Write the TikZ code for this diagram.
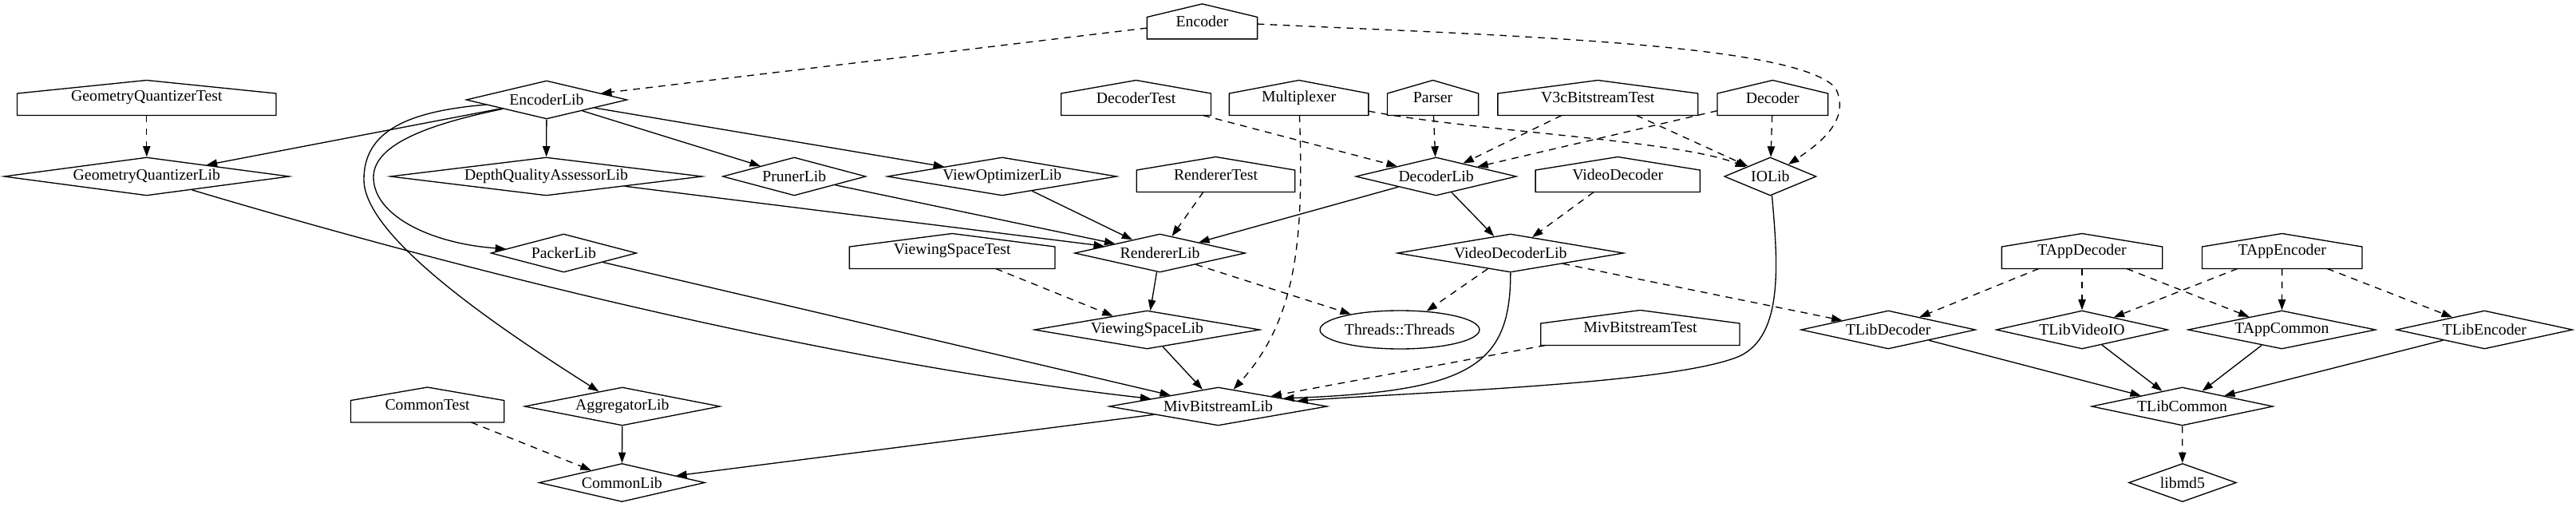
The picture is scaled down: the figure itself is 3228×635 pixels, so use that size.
\documentclass[tikz,border=0pt]{standalone}
\usepackage{fontspec}
\setmainfont{Liberation Serif}
\usetikzlibrary{shapes.geometric,arrows.meta,calc}
\begin{document}
\begin{tikzpicture}[x=0.75pt,y=-0.75pt,
  font=\fontsize{14.8pt}{17pt}\selectfont,
  every node/.style={inner sep=0pt},
  dia/.style 2 args={diamond, draw, line width=1pt, minimum width=#1, minimum height=36pt, shape aspect=#2},
  ell/.style={ellipse, draw, line width=1pt, minimum width=149.9pt, minimum height=36pt},
  house/.style={rectangle, minimum width=#1, minimum height=32.6pt},
  houseline/.style={line width=1pt, line join=miter},
  dep/.style={line width=1pt, -{Triangle[length=10pt,width=7pt]}},
  opt/.style={dep, dash pattern=on 6.5pt off 5.5pt}
]
\useasboundingbox (0,0) rectangle (3228,635);

% house-shaped nodes (executables / tests)
\node[house=103.3pt] (Encoder) at (1506.5,26.9) {Encoder};
\node[house=243pt] (GQTest) at (183.8,122.5) {GeometryQuantizerTest};
\node[house=140.5pt] (DecoderTest) at (1423.6,122.5) {DecoderTest};
\node[house=130.5pt] (Multiplexer) at (1627.6,122.5) {Multiplexer};
\node[house=85.2pt] (Parser) at (1795.5,122.5) {Parser};
\node[house=187.8pt] (V3cTest) at (2002.3,122.5) {V3cBitstreamTest};
\node[house=103.5pt] (Decoder) at (2221.3,122.5) {Decoder};
\node[house=148.5pt] (RendererTest) at (1523.5,218.5) {RendererTest};
\node[house=154.2pt] (VideoDecoder) at (2027.2,218.5) {VideoDecoder};
\node[house=192.8pt] (VSTest) at (1193.2,314.5) {ViewingSpaceTest};
\node[house=150.6pt] (TAppDecoder) at (2609,314.5) {TAppDecoder};
\node[house=150pt] (TAppEncoder) at (2859.7,314.5) {TAppEncoder};
\node[house=186.5pt] (MivTest) at (2055.4,410.5) {MivBitstreamTest};
\node[house=143.7pt] (CommonTest) at (535.6,507) {CommonTest};

\foreach \n in {Encoder,GQTest,DecoderTest,Multiplexer,Parser,V3cTest,Decoder,RendererTest,VideoDecoder,VSTest,TAppDecoder,TAppEncoder,MivTest,CommonTest}
  \draw[houseline] (\n.south west) -- (\n.south east) -- ([yshift=-12.4pt]\n.north east) -- (\n.north) -- ([yshift=-12.4pt]\n.north west) -- cycle;

% libraries
\node[dia={151.3pt}{4.20}] (EncoderLib) at (685,125) {EncoderLib};
\node[dia={268.3pt}{7.45}] (GQLib) at (183.8,221) {GeometryQuantizerLib};
\node[dia={293.3pt}{8.15}] (DQALib) at (684.5,221) {DepthQualityAssessorLib};
\node[dia={134.6pt}{3.74}] (PrunerLib) at (995.3,221) {PrunerLib};
\node[dia={215.8pt}{5.99}] (VOLib) at (1255.8,221) {ViewOptimizerLib};
\node[dia={151pt}{4.20}] (DecoderLib) at (1799.6,221) {DecoderLib};
\node[dia={86.4pt}{2.40}] (IOLib) at (2218.3,221) {IOLib};
\node[dia={136.8pt}{3.80}] (PackerLib) at (706.4,317) {PackerLib};
\node[dia={160.4pt}{4.46}] (RendererLib) at (1453.5,317) {RendererLib};
\node[dia={212.7pt}{5.91}] (VDLib) at (1892.8,317) {VideoDecoderLib};
\node[dia={212pt}{5.89}] (VSLib) at (1437.4,413) {ViewingSpaceLib};
\node[ell] (Threads) at (1754,413) {Threads::Threads};
\node[dia={164pt}{4.56}] (TLibDecoder) at (2366.2,413) {TLibDecoder};
\node[dia={161.3pt}{4.48}] (TLibVideoIO) at (2609,413) {TLibVideoIO};
\node[dia={176.5pt}{4.90}] (TAppCommon) at (2859.4,413) {TAppCommon};
\node[dia={165.6pt}{4.60}] (TLibEncoder) at (3113.3,413) {TLibEncoder};
\node[dia={183.8pt}{5.10}] (AggregatorLib) at (779.8,509) {AggregatorLib};
\node[dia={205.1pt}{5.70}] (MivLib) at (1526.5,509) {MivBitstreamLib};
\node[dia={170.5pt}{4.74}] (TLibCommon) at (2734.6,509) {TLibCommon};
\node[dia={155.7pt}{4.33}] (CommonLib) at (779.4,604.5) {CommonLib};
\node[dia={101pt}{2.80}] (libmd5) at (2734.9,604.5) {libmd5};

% connectors
\draw[opt] (Encoder) -- (EncoderLib);
\draw[opt] (Encoder) .. controls (1900,45) and (2250,55) .. (2300,110) .. controls (2320,150) and (2280,180) .. (IOLib);
\draw[opt] (GQTest) -- (GQLib);
\draw[dep] (EncoderLib) -- (GQLib);
\draw[dep] (EncoderLib) -- (DQALib);
\draw[dep] (EncoderLib) -- (PrunerLib);
\draw[dep] (EncoderLib) -- (VOLib);
\draw[dep] (EncoderLib) .. controls (540,155) and (468,180) .. (468,222) .. controls (468,270) and (540,305) .. (PackerLib);
\draw[dep] (EncoderLib) .. controls (500,140) and (456,170) .. (456,225) .. controls (456,300) and (640,420) .. (AggregatorLib);
\draw[dep] (GQLib) .. controls (600,345) and (1050,455) .. (MivLib);
\draw[dep] (DQALib) -- (RendererLib);
\draw[dep] (PrunerLib) -- (RendererLib);
\draw[dep] (VOLib) -- (RendererLib);
\draw[opt] (RendererTest) -- (RendererLib);
\draw[opt] (DecoderTest) -- (DecoderLib);
\draw[opt] (Multiplexer) .. controls (1634,300) and (1625,400) .. (MivLib);
\draw[opt] (Multiplexer) .. controls (1850,165) and (2100,175) .. (IOLib);
\draw[opt] (Parser) -- (DecoderLib);
\draw[opt] (V3cTest) -- (DecoderLib);
\draw[opt] (V3cTest) -- (IOLib);
\draw[opt] (Decoder) -- (DecoderLib);
\draw[opt] (Decoder) -- (IOLib);
\draw[dep] (DecoderLib) -- (RendererLib);
\draw[dep] (DecoderLib) -- (VDLib);
\draw[opt] (VideoDecoder) -- (VDLib);
\draw[dep] (IOLib) .. controls (2228,330) and (2235,420) .. (2180,446) .. controls (2100,480) and (1800,490) .. (MivLib.4);
\draw[dep] (VDLib) .. controls (1893,460) and (1840,490) .. (MivLib.7);
\draw[opt] (VDLib) -- (Threads);
\draw[opt] (VDLib) -- (TLibDecoder);
\draw[opt] (RendererLib) -- (Threads);
\draw[dep] (RendererLib) -- (VSLib);
\draw[opt] (VSTest) -- (VSLib);
\draw[dep] (PackerLib) -- (MivLib);
\draw[dep] (VSLib) -- (MivLib);
\draw[opt] (MivTest) -- (MivLib.11);
\draw[dep] (AggregatorLib) -- (CommonLib);
\draw[dep] (MivLib) -- (CommonLib);
\draw[opt] (CommonTest) -- (CommonLib);
\draw[opt] (TAppDecoder) -- (TLibDecoder);
\draw[opt] (TAppDecoder) -- (TLibVideoIO);
\draw[opt] (TAppDecoder) -- (TAppCommon);
\draw[opt] (TAppEncoder) -- (TLibVideoIO);
\draw[opt] (TAppEncoder) -- (TAppCommon);
\draw[opt] (TAppEncoder) -- (TLibEncoder);
\draw[dep] (TLibDecoder) -- (TLibCommon);
\draw[dep] (TLibVideoIO) -- (TLibCommon);
\draw[dep] (TAppCommon) -- (TLibCommon);
\draw[dep] (TLibEncoder) -- (TLibCommon);
\draw[opt] (TLibCommon) -- (libmd5);
\end{tikzpicture}
\end{document}
